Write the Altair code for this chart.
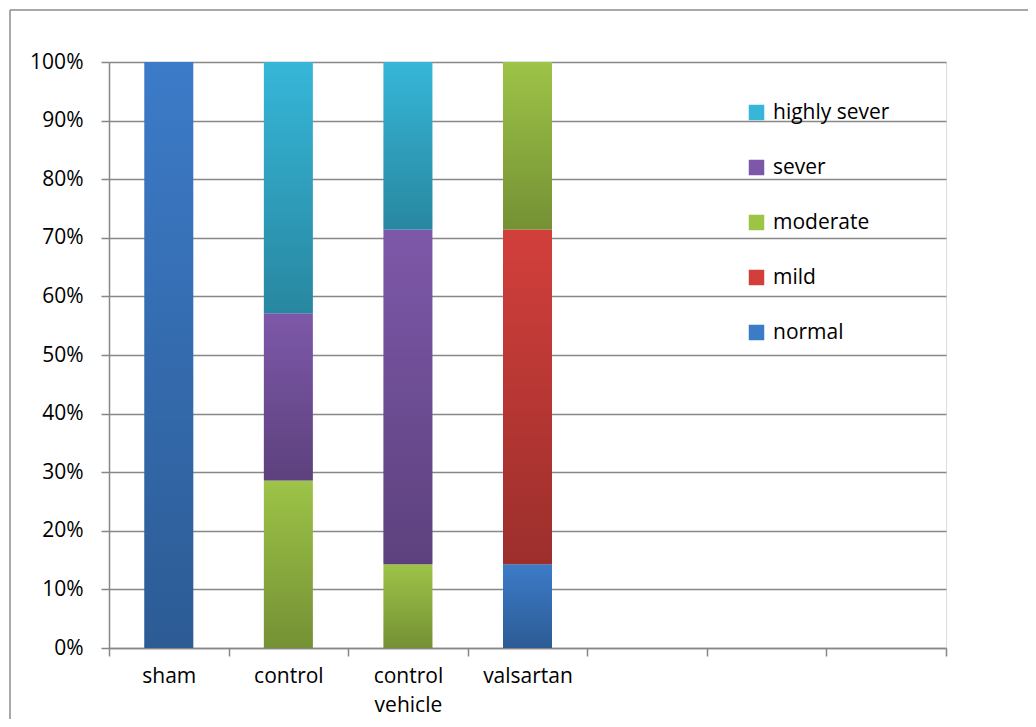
import altair as alt
import pandas as pd

groups = ["sham", "control", "control vehicle", "valsartan"]
blank_slots = [" ", "  ", "   "]
series = ["normal", "mild", "moderate", "sever", "highly sever"]
normal = [100.0, 0.0, 0.0, 14.29]
mild = [0.0, 0.0, 0.0, 57.14]
moderate = [0.0, 28.57, 14.29, 28.57]
sever = [0.0, 28.57, 57.14, 0.0]
highly_sever = [0.0, 42.86, 28.57, 0.0]
colors = ["#3C7BC8", "#D23F3B", "#9DC347", "#7D58A9", "#36B6D8"]
y_ticks = [0, 0.1, 0.2, 0.3, 0.4, 0.5, 0.6, 0.7, 0.8, 0.9, 1.0]

values = [normal, mild, moderate, sever, highly_sever]
rows = []
for si, (s, vals) in enumerate(zip(series, values)):
    for g, v in zip(groups, vals):
        if v > 0:
            rows.append({"group": g, "severity": s, "value": v, "rank": si})
df = pd.DataFrame(rows)

FONT = "Open Sans"
FS = 21
W, H = 837, 586
PL, PT = 101, 54
TOTAL_W, TOTAL_H = 1020, 711
GRID = "#878787"

legend_domain = list(reversed(series))
legend_range = list(reversed(colors))

x_enc = alt.X(
    "group:N",
    scale=alt.Scale(domain=groups + blank_slots, paddingInner=0, paddingOuter=0),
    axis=alt.Axis(
        title=None,
        labelAngle=0,
        labelExpr="split(datum.label, ' ')",
        labelFont=FONT,
        labelFontSize=FS,
        labelColor="#000000",
        labelLineHeight=29,
        labelPadding=9,
        tickBand="extent",
        tickSize=8,
        tickColor=GRID,
        tickWidth=1.5,
        domainColor=GRID,
        domainWidth=1.5,
        grid=False,
    ),
)
y_enc = alt.Y(
    "value:Q",
    stack="normalize",
    scale=alt.Scale(domain=[0, 1]),
    axis=alt.Axis(
        title=None,
        values=y_ticks,
        format=".0%",
        labelFont=FONT,
        labelFontSize=FS,
        labelColor="#000000",
        labelPadding=18,
        tickSize=8,
        tickColor=GRID,
        tickWidth=1.5,
        domainColor=GRID,
        domainWidth=1.5,
        grid=True,
        gridColor=GRID,
        gridWidth=1.6,
    ),
)

base = alt.Chart(df)

bars = base.mark_bar(size=49).encode(
    x=x_enc,
    y=y_enc,
    order=alt.Order("rank:Q", sort="ascending"),
    color=alt.Color(
        "severity:N",
        scale=alt.Scale(domain=legend_domain, range=legend_range),
        legend=alt.Legend(
            title=None,
            orient="none",
            legendX=637,
            legendY=40,
            direction="vertical",
            symbolType="square",
            symbolSize=240,
            symbolStrokeWidth=0,
            labelFont=FONT,
            labelFontSize=FS,
            labelColor="#000000",
            labelOffset=6,
            rowPadding=33,
        ),
    ),
)

shade = base.mark_bar(
    size=49,
    fill=alt.Gradient(
        gradient="linear",
        stops=[
            alt.GradientStop(color="rgba(0,0,0,0)", offset=0),
            alt.GradientStop(color="rgba(0,0,0,0.26)", offset=1),
        ],
        x1=0, x2=0, y1=0, y2=1,
    ),
).encode(
    x=alt.X("group:N", scale=alt.Scale(domain=groups + blank_slots, paddingInner=0, paddingOuter=0)),
    y=alt.Y("value:Q", stack="normalize"),
    order=alt.Order("rank:Q", sort="ascending"),
)

one = pd.DataFrame({"a": [0]})
frame_left = alt.Chart(one).mark_rule(color="#8C8C8C", strokeWidth=1.5).encode(
    x=alt.value(-PL + 2), y=alt.value(-PT + 2), y2=alt.value(TOTAL_H - PT)
)
frame_top = alt.Chart(one).mark_rule(color="#8C8C8C", strokeWidth=1.5).encode(
    x=alt.value(-PL + 2), x2=alt.value(TOTAL_W - PL), y=alt.value(-PT + 2)
)

chart = alt.layer(bars, shade, frame_left, frame_top).properties(
    width=W,
    height=H,
    autosize=alt.AutoSizeParams(type="none"),
    padding={"left": PL, "top": PT, "right": TOTAL_W - PL - W, "bottom": TOTAL_H - PT - H},
).configure_view(stroke=None).configure(background="white")

chart.save("out.html", embed_options={"renderer": "svg", "actions": False})
